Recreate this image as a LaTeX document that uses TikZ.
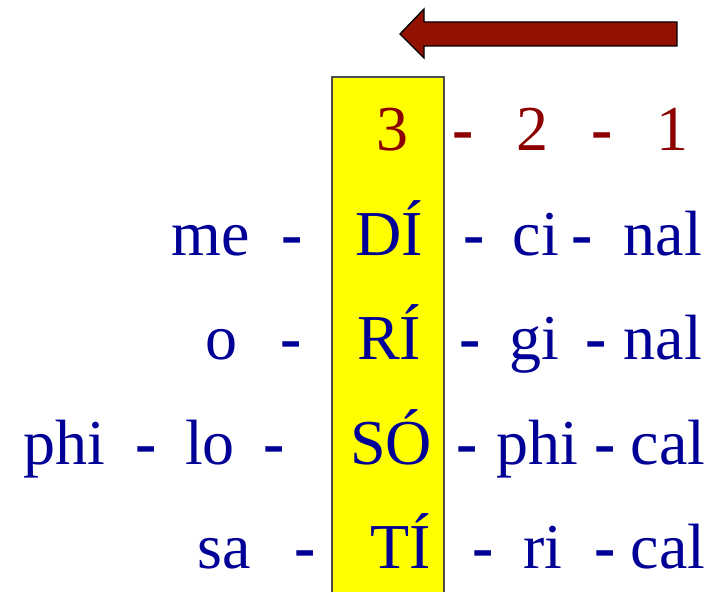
\documentclass[tikz,border=0pt]{standalone}
\usepackage{fontspec}
\setmainfont{Liberation Serif}
\definecolor{sylblue}{RGB}{0,0,150}
\definecolor{numred}{RGB}{140,0,0}
\definecolor{arrowred}{RGB}{147,17,0}
\definecolor{stressyellow}{RGB}{255,255,0}
\newcommand{\syldash}{\textbf{-}}
\tikzset{
	syl/.style={anchor=base, inner sep=0pt, text=sylblue, font=\fontsize{48}{58}\selectfont},
	num/.style={syl, text=numred},
}

\begin{document}
\begin{tikzpicture}[x=0.75pt, y=-0.75pt]
	\useasboundingbox (0,0) rectangle (712,592);
	% stressed column
	\fill[stressyellow] (332,77) rectangle (444,592);
	\draw[black!70, line width=0.8pt] (332,592) -- (332,77) -- (444,77) -- (444,592);
	% direction of counting
	\filldraw[fill=arrowred, draw=black, line width=1pt] (677,22) -- (424,22) -- (424,9) -- (400,34) -- (424,58) -- (424,46) -- (677,46) -- cycle;
	% syllable numbers
	\foreach \x/\t [count=\i] in {392/3, 463/\syldash, 532/2, 602/\syldash, 672/1}
		\node[num] (num\i) at (\x,150) {\t};
	% words
	\foreach \x/\t [count=\i] in {211/me, 292/\syldash, 389/DÍ, 474/\syldash, 536/ci, 582/\syldash, 663/nal}
		\node[syl] (medicinal\i) at (\x,255) {\t};
	\foreach \x/\t [count=\i] in {221/o, 291/\syldash, 389/RÍ, 470/\syldash, 534/gi, 596/\syldash, 663/nal}
		\node[syl] (original\i) at (\x,359) {\t};
	\foreach \x/\t [count=\i] in {64/phi, 146/\syldash, 210/lo, 274/\syldash, 391/SÓ, 467/\syldash, 537/phi, 605/\syldash, 668/cal}
		\node[syl] (philosophical\i) at (\x,464) {\t};
	\foreach \x/\t [count=\i] in {224/sa, 305/\syldash, 401/TÍ, 483/\syldash, 543/ri, 605/\syldash, 668/cal}
		\node[syl] (satirical\i) at (\x,568) {\t};
\end{tikzpicture}
\end{document}
